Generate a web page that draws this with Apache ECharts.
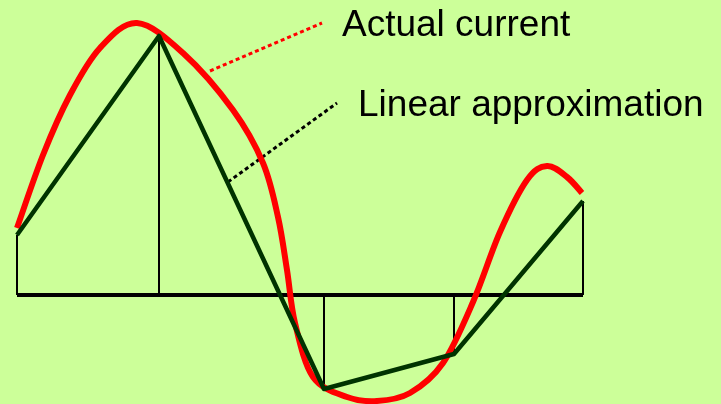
<!DOCTYPE html>
<html>
<head>
<meta charset="utf-8">
<script src="https://cdn.jsdelivr.net/npm/echarts@6/dist/echarts.min.js"></script>
<style>
  html, body { margin: 0; padding: 0; background: #ccff99; }
  #chart { width: 721px; height: 404px; }
</style>
</head>
<body>
<div id="chart"></div>
<script>
  // time (pixel-ish units from the left end) and current (up from the baseline)
  var actualT = [0, 26, 53, 83, 120, 166, 216, 246, 261, 270, 278, 296, 330, 360, 393, 426, 456, 483, 510, 530, 550, 565];
  var actualI = [67, 140, 200, 247, 272, 242, 185, 132, 78, 25, -28, -82, -102, -106, -98, -68, -7, 63, 115, 129, 118, 102];

  var linearT = [0, 142, 307, 437, 566];
  var linearI = [60, 259, -94, -59, 94];

  var labels = ['Actual current', 'Linear approximation'];

  var chart = echarts.init(document.getElementById('chart'));

  var pairs = function (xs, ys) {
    return xs.map(function (x, i) { return [x, ys[i]]; });
  };

  /* drop lines from each sample of the linear approximation */
  var drops = linearT.map(function (t, i) {
    return { coords: [[t, 0], [t, linearI[i]]] };
  });
  var baseline = [{ coords: [[linearT[0], 0], [linearT[linearT.length - 1], 0]] }];

  // smooth curve through the measured points (catmull-rom as bezier)
  var renderCurve = function (params, api) {
    if (params.dataIndex !== 0) return null;
    var pts = actualT.map(function (t, i) { return api.coord([t, actualI[i]]); });
    var n = pts.length;
    var d = 'M' + pts[0][0] + ' ' + pts[0][1];
    for (var i = 0; i < n - 1; i++) {
      var p0 = pts[Math.max(i - 1, 0)], p1 = pts[i], p2 = pts[i + 1], p3 = pts[Math.min(i + 2, n - 1)];
      var c1x = p1[0] + (p2[0] - p0[0]) / 6, c1y = p1[1] + (p2[1] - p0[1]) / 6;
      var c2x = p2[0] - (p3[0] - p1[0]) / 6, c2y = p2[1] - (p3[1] - p1[1]) / 6;
      d += ' C' + c1x + ' ' + c1y + ' ' + c2x + ' ' + c2y + ' ' + p2[0] + ' ' + p2[1];
    }
    return {
      type: 'path',
      shape: { pathData: d },
      style: { fill: null, stroke: '#ff0000', lineWidth: 6, lineCap: 'butt', lineJoin: 'round' }
    };
  };

  var option = {
    backgroundColor: '#ccff99',
    animation: false,
    grid: { left: 0, right: 0, top: 0, bottom: 0 },
    xAxis: { type: 'value', min: -17, max: 704, show: false },
    yAxis: { type: 'value', min: -109, max: 295, show: false },
    series: [
      {
        type: 'lines',
        coordinateSystem: 'cartesian2d',
        data: drops,
        silent: true,
        lineStyle: { color: '#000', width: 2, opacity: 1 }
      },
      {
        type: 'lines',
        coordinateSystem: 'cartesian2d',
        data: baseline,
        silent: true,
        lineStyle: { color: '#000', width: 4, opacity: 1 }
      },
      {
        name: labels[0],
        type: 'custom',
        data: pairs(actualT, actualI),
        renderItem: renderCurve,
        silent: true,
        clip: false
      },
      {
        name: labels[1],
        type: 'line',
        data: pairs(linearT, linearI),
        showSymbol: false,
        lineStyle: { color: '#003300', width: 4.5, join: 'round' }
      }
    ],
    graphic: [
      {
        type: 'line',
        shape: { x1: 210, y1: 71, x2: 322, y2: 23 },
        style: { stroke: '#ff0000', lineWidth: 3, lineDash: [4, 3] }
      },
      {
        type: 'line',
        shape: { x1: 228, y1: 182, x2: 337, y2: 103 },
        style: { stroke: '#000', lineWidth: 3, lineDash: [4, 3] }
      },
      {
        type: 'text',
        style: {
          x: 342, y: 44, text: labels[0], fill: '#000',
          font: '37px "Liberation Sans", Arial, sans-serif',
          verticalAlign: 'bottom'
        }
      },
      {
        type: 'text',
        style: {
          x: 358, y: 124, text: labels[1], fill: '#000',
          font: '37px "Liberation Sans", Arial, sans-serif',
          verticalAlign: 'bottom'
        }
      }
    ]
  };
  chart.setOption(option);
</script>
</body>
</html>
